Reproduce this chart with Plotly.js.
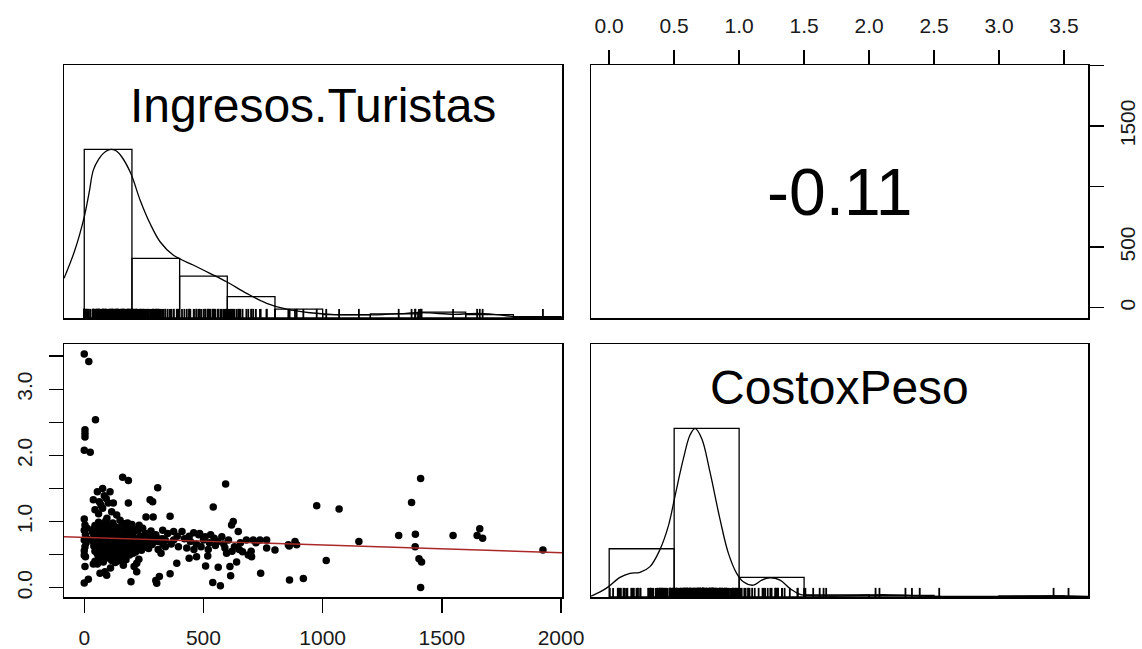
<!DOCTYPE html>
<html>
<head>
<meta charset="utf-8">
<script src="https://cdn.plot.ly/plotly-3.0.1.min.js"></script>
<style>html,body{margin:0;padding:0;background:#fff;}#chart{width:1142px;height:649px;}</style>
</head>
<body>
<div id="chart"></div>
<script>
// ---------- data ----------
const varNames = ["Ingresos.Turistas", "CostoxPeso"];
const corrText = "-0.11";

// paired observations (scatter, rugs)
const ingresos = [
  0,19,47,3,3,3,0,25,161,185,308,593,1411,975,1069,1373,541,360,
  1319,1389,1388,1547,1659,1648,1671,1152,1924,1015,1404,1415,1411,
  861,919,740,539,571,614,611,562,509,518,471,440,388,360,315,304,300,322,597,639,664,688,702,800,860,884,891,856,709,737,765,765,646,625,618,459,484,507,577,375,329,
  0,3,0,5,0,8,3,0,5,0,3,0,17,12,10,
  77,55,108,38,63,84,101,122,45,77,92,70,115,136,185,276,287,259,289,182,60,95,
  38,55,66,94,87,164,196,220,209,229,220,45,110,130,150,
  60,90,120,150,175,
  45,70,100,125,160,200,230,
  40,55,80,105,135,165,190,215,245,
  35,60,85,110,140,170,195,225,255,280,
  40,65,90,115,130,150,180,205,235,265,295,
  50,75,100,125,145,165,190,215,240,270,300,320,
  35,60,85,110,135,155,175,200,225,250,280,310,340,
  45,70,95,120,140,160,185,210,235,260,290,330,
  40,65,90,115,135,155,180,205,230,255,285,
  50,75,100,125,145,170,195,220,250,270,
  45,70,95,120,140,165,190,215,240,
  55,80,105,130,155,180,205,
  60,85,110,135,160,190,
  70,100,125,150,175,
  80,115,140,
  350,390,420,445,470,500,525,550,365,395,430,460,490,520,545,560,585,605,630,655,680,410,440,340,310,330,300,375,480,530,590,620,650,700,720
];
const costo = [
  3.535,3.42,2.54,2.39,2.33,2.28,2.08,2.05,1.67,1.62,1.51,1.57,1.65,1.24,1.19,1.29,1.22,1.08,
  0.79,0.81,0.62,0.79,0.89,0.79,0.75,0.70,0.57,0.41,0.44,0.39,0.005,
  0.116,0.14,0.22,0.08,0.03,0.18,0.32,0.31,0.33,0.48,0.47,0.445,0.37,0.21,0.17,0.066,0.11,0.52,0.52,0.39,0.545,0.495,0.47,0.57,0.63,0.70,0.65,0.65,0.72,0.72,0.72,0.60,0.85,1.00,0.95,0.83,0.82,0.77,0.77,0.85,0.87,
  1.04,0.95,0.87,0.80,0.72,0.68,0.62,0.56,0.47,0.49,0.32,0.07,0.13,0.90,0.75,
  1.50,1.45,1.45,1.33,1.30,1.39,1.28,1.28,1.18,1.20,1.35,1.25,1.15,1.10,1.28,1.33,1.30,1.07,1.07,0.98,1.12,1.05,
  0.36,0.36,0.22,0.19,0.24,0.34,0.09,0.24,0.32,0.43,0.37,0.40,0.30,0.38,0.42,
  0.99,1.01,0.98,1.02,0.97,
  0.94,0.96,0.95,0.93,0.97,0.955,0.945,
  0.89,0.91,0.905,0.885,0.915,0.895,0.92,0.88,0.90,
  0.84,0.86,0.855,0.845,0.865,0.835,0.85,0.87,0.825,0.858,
  0.79,0.81,0.805,0.795,0.815,0.785,0.80,0.82,0.775,0.808,0.792,
  0.75,0.77,0.765,0.755,0.745,0.775,0.76,0.742,0.768,0.752,0.778,0.738,
  0.71,0.73,0.725,0.715,0.705,0.735,0.72,0.702,0.728,0.712,0.732,0.698,0.718,
  0.67,0.69,0.685,0.675,0.665,0.695,0.68,0.662,0.688,0.672,0.692,0.658,
  0.63,0.65,0.645,0.635,0.625,0.655,0.64,0.622,0.648,0.632,0.652,
  0.59,0.61,0.605,0.595,0.585,0.615,0.60,0.582,0.608,0.592,
  0.55,0.57,0.565,0.555,0.545,0.575,0.56,0.542,0.568,
  0.51,0.53,0.525,0.515,0.505,0.535,0.52,
  0.47,0.49,0.485,0.475,0.465,0.495,
  0.43,0.45,0.445,0.435,0.425,
  0.39,0.41,0.405,
  0.82,0.78,0.74,0.70,0.66,0.72,0.68,0.64,0.66,0.62,0.60,0.58,0.62,0.58,0.75,0.70,0.66,0.72,0.62,0.68,0.72,0.85,0.78,0.62,0.58,0.74,0.80,0.72,0.80,0.80,0.60,0.55,0.58,0.55,0.68
];

// histograms (bar heights relative to the tallest bar)
const ingBreaks = [0,200,400,600,800,1000,1200,1400,1600,1800,2000];
const ingHist   = [1.0,0.354,0.248,0.127,0.053,0.02,0.025,0.035,0.02,0.008];
const costoBreaks = [0,0.5,1.0,1.5,2.0,2.5,3.0,3.5,4.0];
const costoHist   = [0.286,1.0,0.116,0.012,0.01,0.003,0.006,0.003];

// density curves (relative to their maximum)
const ingDensX = [-85,-40,0,20,38,60,80,100,115,135,157,195,234,276,318,373,457,527,597,681,765,849,947,1050,1150,1250,1350,1400,1450,1550,1650,1700,1780,1850,1950,2004];
const ingDensY = [0.235,0.40,0.60,0.74,0.877,0.94,0.976,0.995,1.0,0.99,0.956,0.858,0.70,0.56,0.452,0.373,0.314,0.265,0.215,0.146,0.087,0.052,0.031,0.02,0.018,0.02,0.028,0.032,0.03,0.022,0.028,0.025,0.012,0.004,0.002,0.002];
const costoDensX = [-0.14,-0.07,-0.007,0.083,0.16,0.237,0.314,0.39,0.455,0.507,0.571,0.622,0.661,0.712,0.776,0.853,0.917,0.981,1.032,1.109,1.174,1.238,1.315,1.392,1.469,1.57,1.7,2.0,2.1,2.3,2.5,3.0,3.4,3.5,3.685];
const costoDensY = [0.005,0.03,0.06,0.116,0.14,0.146,0.18,0.28,0.42,0.60,0.82,0.96,1.0,0.94,0.74,0.46,0.26,0.14,0.09,0.07,0.10,0.114,0.10,0.05,0.016,0.008,0.006,0.012,0.014,0.01,0.004,0.002,0.006,0.006,0.002];

// fitted regression line in the scatter panel (end points)
const fitX = [-85, 2004];
const fitY = [0.772, 0.530];

// axis ticks
const ingTicks = [0,500,1000,1500,2000];
const ingTickTextBottom = ["0","500","1000","1500","2000"];
const ingTickTextRight  = ["0","500","","1500",""];
const costoTicks = [0,0.5,1.0,1.5,2.0,2.5,3.0,3.5];
const costoTickTextTop  = ["0.0","0.5","1.0","1.5","2.0","2.5","3.0","3.5"];
const costoTickTextLeft = ["0.0","","1.0","","2.0","","3.0",""];

// ---------- building the figure ----------
const ingRange = [-85, 2004];
const costoRange = [-0.14, 3.685];
const histRange = [0, 1.5];
const rugLen = 0.054;

function rug(vals, xa, ya) {
  const xs = [], ys = [];
  vals.forEach(v => { xs.push(v, v, null); ys.push(0, rugLen, null); });
  return {type:'scatter', mode:'lines', x:xs, y:ys, xaxis:xa, yaxis:ya,
          line:{color:'black', width:1.8}, hoverinfo:'skip'};
}
function bars(breaks, h, xa, ya) {
  const mids = [], widths = [];
  for (let i = 0; i < h.length; i++) { mids.push((breaks[i]+breaks[i+1])/2); widths.push(breaks[i+1]-breaks[i]); }
  return {type:'bar', x:mids, y:h, width:widths, xaxis:xa, yaxis:ya,
          marker:{color:'rgba(255,255,255,0)', line:{color:'black', width:1.3}}, hoverinfo:'skip'};
}

const traces = [
  bars(ingBreaks, ingHist, 'x', 'y'),
  rug(ingresos, 'x', 'y'),
  {type:'scatter', mode:'lines', x:ingDensX, y:ingDensY, xaxis:'x', yaxis:'y',
   line:{color:'black', width:1.3, shape:'spline'}},
  bars(costoBreaks, costoHist, 'x4', 'y4'),
  rug(costo, 'x4', 'y4'),
  {type:'scatter', mode:'lines', x:costoDensX, y:costoDensY, xaxis:'x4', yaxis:'y4',
   line:{color:'black', width:1.3, shape:'spline'}},
  {type:'scatter', mode:'markers', x:ingresos, y:costo, xaxis:'x3', yaxis:'y3',
   marker:{color:'black', size:7.5}},
  {type:'scatter', mode:'lines', x:fitX, y:fitY, xaxis:'x3', yaxis:'y3',
   line:{color:'rgb(170,40,40)', width:1.4}},
  {type:'scatter', mode:'markers', x:[], y:[], xaxis:'x2', yaxis:'y2'}
];

const W = 1142, H = 649;
const colL = [64/W, 562/W], colR = [591/W, 1088/W];
const rowT = [1-318/H, 1-65/H], rowB = [1-597/H, 1-344/H];
const tickFont = {family:'Liberation Sans, Arial, sans-serif', size:21, color:'#1a1a1a'};
const box = {showline:true, mirror:true, linecolor:'black', linewidth:1.5,
             showgrid:false, zeroline:false, fixedrange:true};
const none = {showticklabels:false, ticks:''};

const layout = {
  width:W, height:H, margin:{l:0,r:0,t:0,b:0},
  paper_bgcolor:'white', plot_bgcolor:'white', showlegend:false,
  font:{family:'Liberation Sans, Arial, sans-serif', color:'black'},
  xaxis:  Object.assign({}, box, none, {domain:colL, range:ingRange, anchor:'y'}),
  yaxis:  Object.assign({}, box, none, {domain:rowT, range:histRange, anchor:'x'}),
  xaxis2: Object.assign({}, box, {domain:colR, range:costoRange, anchor:'y2', side:'top',
           tickmode:'array', tickvals:costoTicks, ticktext:costoTickTextTop,
           ticks:'outside', ticklen:14, tickwidth:1.5, tickcolor:'black',
           tickfont:tickFont, ticklabelstandoff:8}),
  yaxis2: Object.assign({}, box, {domain:rowT, range:ingRange, anchor:'x2', side:'right',
           tickmode:'array', tickvals:ingTicks, ticktext:ingTickTextRight,
           ticks:'outside', ticklen:14, tickwidth:1.5, tickcolor:'black',
           tickfont:tickFont, tickangle:-90, ticklabelstandoff:6}),
  xaxis3: Object.assign({}, box, {domain:colL, range:ingRange, anchor:'y3', side:'bottom',
           tickmode:'array', tickvals:ingTicks, ticktext:ingTickTextBottom,
           ticks:'outside', ticklen:14, tickwidth:1.5, tickcolor:'black',
           tickfont:tickFont, ticklabelstandoff:7}),
  yaxis3: Object.assign({}, box, {domain:rowB, range:costoRange, anchor:'x3', side:'left',
           tickmode:'array', tickvals:costoTicks, ticktext:costoTickTextLeft,
           ticks:'outside', ticklen:14, tickwidth:1.5, tickcolor:'black',
           tickfont:tickFont, tickangle:-90, ticklabelstandoff:8}),
  xaxis4: Object.assign({}, box, none, {domain:colR, range:costoRange, anchor:'y4'}),
  yaxis4: Object.assign({}, box, none, {domain:rowB, range:histRange, anchor:'x4'}),
  annotations: [
    {text:varNames[0], xref:'x domain', yref:'y domain', x:0.5, y:0.84, showarrow:false,
     xanchor:'center', yanchor:'middle', font:{size:48, color:'black', family:'Liberation Sans, Arial, sans-serif'}},
    {text:varNames[1], xref:'x4 domain', yref:'y4 domain', x:0.5, y:0.83, showarrow:false,
     xanchor:'center', yanchor:'middle', font:{size:48, color:'black', family:'Liberation Sans, Arial, sans-serif'}},
    {text:corrText, xref:'x2 domain', yref:'y2 domain', x:0.5, y:0.5, showarrow:false,
     xanchor:'center', yanchor:'middle', font:{size:66, color:'black', family:'Liberation Sans, Arial, sans-serif'}}
  ]
};

Plotly.newPlot('chart', traces, layout, {displayModeBar:false, staticPlot:true});
</script>
</body>
</html>
